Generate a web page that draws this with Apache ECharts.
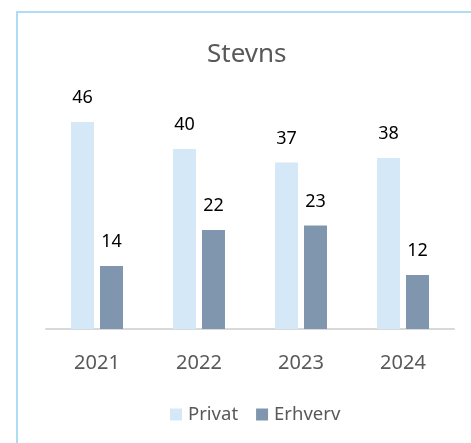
<!DOCTYPE html>
<html>
<head>
<meta charset="utf-8">
<script src="https://cdn.jsdelivr.net/npm/echarts@6/dist/echarts.min.js"></script>
<style>
  html, body { margin: 0; padding: 0; background: #fff; }
  #chart { width: 471px; height: 443px; }
</style>
</head>
<body>
<div id="chart"></div>
<script>
// data
const years = ['2021', '2022', '2023', '2024'];
const privat = [46, 40, 37, 38];
const erhverv = [14, 22, 23, 12];

const chart = echarts.init(document.getElementById('chart'));

const labelStyle = {
  show: true,
  position: 'top',
  distance: 15,
  color: '#000',
  fontSize: 18,
  fontFamily: 'Noto Sans'
};

chart.setOption({
  backgroundColor: '#fff',
  animation: false,
  textStyle: { fontFamily: 'Noto Sans' },
  // light blue frame, only top and left visible in the picture
  graphic: [{
    type: 'rect',
    shape: { x: 17, y: 12, width: 480, height: 460 },
    style: { fill: 'none', stroke: '#AEDCF5', lineWidth: 2 },
    silent: true
  }],
  title: {
    text: 'Stevns',
    left: 202,
    top: 37,
    textStyle: { color: '#595959', fontSize: 26, fontWeight: 'normal', fontFamily: 'Noto Sans' }
  },
  legend: {
    bottom: 14,
    left: 165,
    itemWidth: 12,
    itemHeight: 12,
    itemGap: 18,
    icon: 'rect',
    textStyle: { color: '#595959', fontSize: 18.5, padding: [0, 0, 0, 1] },
    data: ['Privat', 'Erhverv']
  },
  grid: { left: 46, right: 17, top: 104, bottom: 114 },
  xAxis: {
    type: 'category',
    data: years,
    axisLine: { lineStyle: { color: '#D9D9D9', width: 2 } },
    axisTick: { show: false },
    axisLabel: { color: '#595959', fontSize: 20, margin: 24 }
  },
  yAxis: {
    type: 'value',
    min: 0,
    max: 50,
    show: false,
    splitLine: { show: false }
  },
  series: [
    {
      name: 'Privat',
      type: 'bar',
      data: privat,
      barWidth: 23,
      barGap: '26%',
      itemStyle: { color: '#D5E8F8' },
      label: labelStyle
    },
    {
      name: 'Erhverv',
      type: 'bar',
      data: erhverv,
      barWidth: 23,
      itemStyle: { color: '#8096AE' },
      label: labelStyle
    }
  ]
});
</script>
</body>
</html>
